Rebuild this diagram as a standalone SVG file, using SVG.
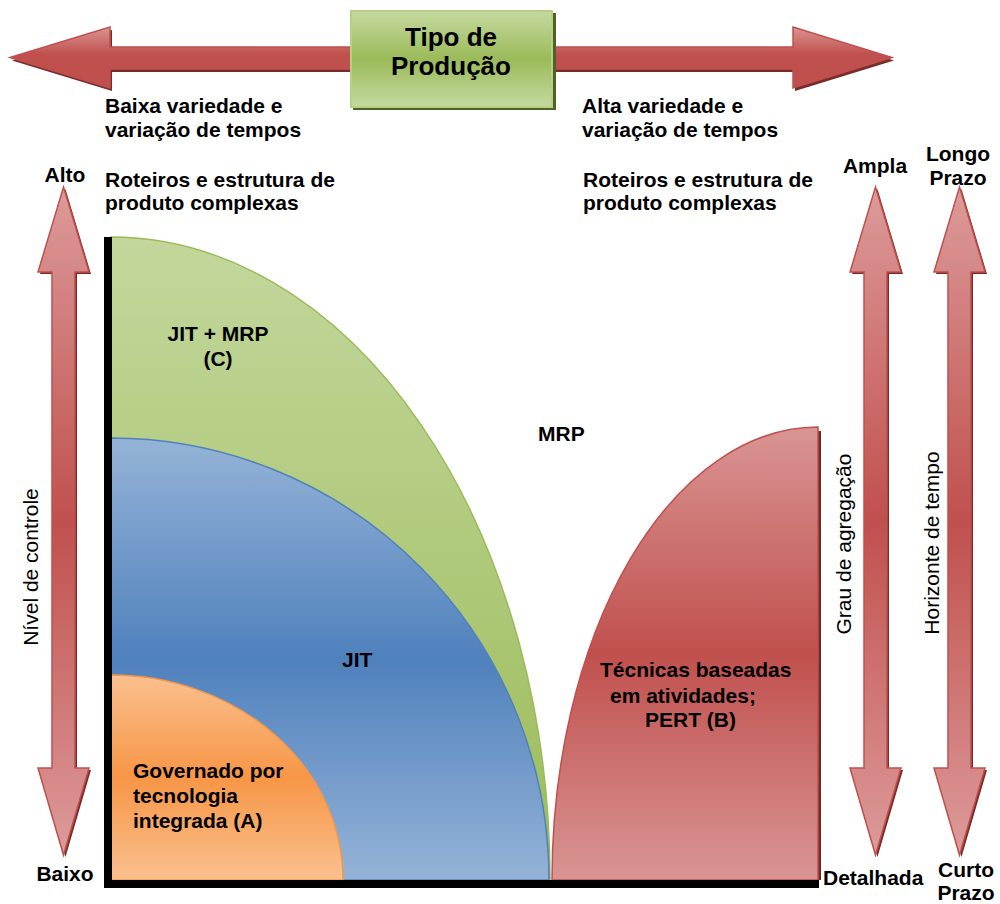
<svg xmlns="http://www.w3.org/2000/svg" width="1000" height="904" viewBox="0 0 1000 904">
<style>
.t{font-family:"Liberation Sans",Arial,sans-serif;font-size:21px;font-weight:bold;fill:#000}
.big{font-size:26px}
.r{font-weight:normal}
.c{text-anchor:middle}
.sh{fill:#7a2c2a}
</style>
<defs>
<linearGradient id="gV" x1="0" y1="0" x2="0" y2="1">
<stop offset="0" stop-color="#dc9b9a"/><stop offset="0.5" stop-color="#c0504d"/><stop offset="1" stop-color="#dc9b9a"/>
</linearGradient>
<linearGradient id="gH" x1="0" y1="0" x2="0" y2="1">
<stop offset="0" stop-color="#da9593"/><stop offset="0.45" stop-color="#c0504d"/><stop offset="1" stop-color="#c0504d"/>
</linearGradient>
<linearGradient id="gBox" x1="0" y1="0" x2="0" y2="1">
<stop offset="0" stop-color="#c5d9a0"/><stop offset="0.5" stop-color="#9bbb59"/><stop offset="1" stop-color="#c5d9a0"/>
</linearGradient>
<linearGradient id="gGreen" x1="0" y1="0" x2="0" y2="1">
<stop offset="0" stop-color="#c3d79c"/><stop offset="1" stop-color="#9bbb59"/>
</linearGradient>
<linearGradient id="gBlue" x1="0" y1="0" x2="0" y2="1">
<stop offset="0" stop-color="#95b3d7"/><stop offset="0.5" stop-color="#4f81bd"/><stop offset="1" stop-color="#95b3d7"/>
</linearGradient>
<linearGradient id="gOrange" x1="0" y1="0" x2="0" y2="1">
<stop offset="0" stop-color="#fac08f"/><stop offset="0.5" stop-color="#f79646"/><stop offset="1" stop-color="#fac08f"/>
</linearGradient>
<linearGradient id="gRed" x1="0" y1="0" x2="0" y2="1">
<stop offset="0" stop-color="#d99594"/><stop offset="0.5" stop-color="#c0504d"/><stop offset="1" stop-color="#d99594"/>
</linearGradient>
<path id="varrow" d="M0,187 L25.5,272 L11.5,272 L11.5,768 L25.5,768 L0,855 L-25.5,768 L-11.5,768 L-11.5,272 L-25.5,272 Z"/>
<path id="harrow" d="M10,57.5 L110,27 L110,47 L793,47 L793,27 L892,57.5 L793,88 L793,69 L110,69 L110,88 Z"/>
</defs>

<g id="connectors">
<g id="arrow-top">
<use href="#harrow" class="sh" transform="translate(2,3)"/>
<use href="#harrow" fill="url(#gH)" stroke="#c0504d" stroke-width="1.5"/>
</g>
<g id="arrow-nivel">
<use href="#varrow" class="sh" transform="translate(65.5,2)"/>
<use href="#varrow" fill="url(#gV)" stroke="#c0504d" stroke-width="1.5" transform="translate(63.5,0)"/>
</g>
<g id="arrow-grau">
<use href="#varrow" class="sh" transform="translate(877.5,2)"/>
<use href="#varrow" fill="url(#gV)" stroke="#c0504d" stroke-width="1.5" transform="translate(875.5,0)"/>
</g>
<g id="arrow-horizonte">
<use href="#varrow" class="sh" transform="translate(961.5,2)"/>
<use href="#varrow" fill="url(#gV)" stroke="#c0504d" stroke-width="1.5" transform="translate(959.5,0)"/>
</g>
</g>

<g id="tipo-producao">
<rect x="353" y="13" width="203" height="97" fill="#4f6228"/>
<rect x="351" y="11" width="201" height="96" fill="url(#gBox)" stroke="#b6cf85" stroke-width="2"/>
<text class="t big c" x="451" y="46">Tipo de</text>
<text class="t big c" x="451" y="75">Produção</text>
</g>

<g id="zone-green">
<path d="M111,880 L111,237 A439,643 0 0 1 550,880 Z" fill="url(#gGreen)" stroke="#9bbb59" stroke-width="1.5"/>
<text class="t c" x="218" y="341">JIT + MRP</text>
<text class="t c" x="218" y="366">(C)</text>
</g>
<g id="zone-blue">
<path d="M111,880 L111,438 A438,442 0 0 1 549,880 Z" fill="url(#gBlue)" stroke="#4f81bd" stroke-width="1.5"/>
<text class="t" x="342" y="667">JIT</text>
</g>
<g id="zone-orange">
<path d="M111,880 L111,675 A232,205 0 0 1 343,880 Z" fill="url(#gOrange)" stroke="#f79646" stroke-width="1.5"/>
<text class="t" x="133" y="778">Governado por</text>
<text class="t" x="133" y="803">tecnologia</text>
<text class="t" x="133" y="828">integrada (A)</text>
</g>
<g id="zone-red">
<rect x="818" y="431" width="3" height="449" fill="#6e2a28"/>
<path d="M552,880 A266,453 0 0 1 818,427 L818,880 Z" fill="url(#gRed)" stroke="#c0504d" stroke-width="1.5"/>
<text class="t" x="600" y="677">Técnicas baseadas</text>
<text class="t" x="610" y="703">em atividades;</text>
<text class="t" x="645" y="727">PERT (B)</text>
</g>
<g id="zone-mrp">
<text class="t" x="538" y="441">MRP</text>
</g>

<g id="axes">
<rect x="104" y="237" width="8" height="651" fill="#000"/>
<rect x="104" y="880" width="715" height="8" fill="#000"/>
</g>

<g id="labels">
<text class="t" x="105" y="113">Baixa variedade e</text>
<text class="t" x="105" y="137">variação de tempos</text>
<text class="t" x="105" y="187">Roteiros e estrutura de</text>
<text class="t" x="105" y="210">produto complexas</text>
<text class="t" x="582" y="113">Alta variedade e</text>
<text class="t" x="582" y="137">variação de tempos</text>
<text class="t" x="583" y="187">Roteiros e estrutura de</text>
<text class="t" x="583" y="210">produto complexas</text>
<text class="t c" x="65" y="182">Alto</text>
<text class="t c" x="65" y="881">Baixo</text>
<text class="t c" x="875" y="173">Ampla</text>
<text class="t c" x="958" y="161">Longo</text>
<text class="t c" x="958" y="185">Prazo</text>
<text class="t" x="823" y="885">Detalhada</text>
<text class="t c" x="966" y="877">Curto</text>
<text class="t c" x="966" y="900">Prazo</text>
<text class="t r c" transform="translate(38,567) rotate(-90)">Nível de controle</text>
<text class="t r c" transform="translate(851,544) rotate(-90)">Grau de agregação</text>
<text class="t r c" transform="translate(939,543) rotate(-90)">Horizonte de tempo</text>
</g>
</svg>
